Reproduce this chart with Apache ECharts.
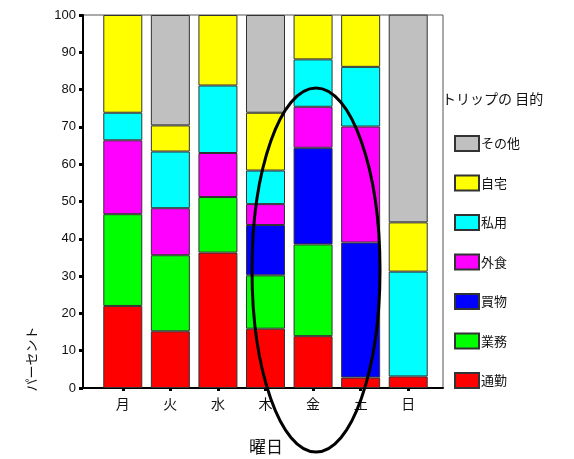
<!DOCTYPE html>
<html><head><meta charset="utf-8">
<script src="https://cdn.jsdelivr.net/npm/echarts@6/dist/echarts.min.js"></script>
<style>html,body{margin:0;padding:0;background:#fff}#c{width:574px;height:459px}</style>
</head><body><div id="c"></div>
<script>
const days = ['月','火','水','木','金','土','日'];
const yTicks = [0,10,20,30,40,50,60,70,80,90,100];
const purposes = ['通勤','業務','買物','外食','私用','自宅','その他'];
const colors = ['#FF0000','#00FF00','#0000FF','#FF00FF','#00FFFF','#FFFF00','#C0C0C0'];
const commute = [22.0, 15.2, 36.3, 15.9, 13.9, 2.8, 3.1];
const business = [24.6, 20.4, 14.9, 14.3, 24.6, 0, 0];
const shopping = [0, 0, 0, 13.5, 25.9, 36.2, 0];
const eatingOut = [19.8, 12.6, 11.8, 5.6, 11.0, 31.1, 0];
const privateUse = [7.4, 15.2, 18.1, 9.0, 12.7, 16.0, 28.1];
const home = [26.2, 7.0, 18.9, 15.5, 11.9, 13.9, 13.2];
const other = [0, 29.6, 0, 26.2, 0, 0, 55.7];
const seriesValues = [commute, business, shopping, eatingOut, privateUse, home, other];

const latin = 'Liberation Sans, Arial, Noto Sans CJK JP';
const cjk = 'Noto Sans CJK JP, sans-serif';

const chart = echarts.init(document.getElementById('c'));
chart.setOption({
  animation: false,
  title: {text: 'トリップの 目的', left: 442, top: 92, padding: 0,
    textStyle: {fontSize: 14, fontWeight: 'normal', color: '#111', fontFamily: cjk}},
  legend: {
    orient: 'vertical', left: 454, top: 135, padding: 0,
    itemWidth: 24, itemHeight: 15, itemGap: 22.5, icon: 'rect',
    data: purposes.slice().reverse(),
    textStyle: {fontSize: 13, color: '#111', fontFamily: cjk, padding: [0,0,0,-3]}
  },
  grid: [
    {left: 99, width: 333, top: 15, bottom: 71, containLabel: false},
    {left: 83, width: 360, top: 15, bottom: 71, show: true, borderColor: '#555', borderWidth: 1, backgroundColor: 'transparent'}
  ],
  xAxis: [
    {type: 'category', gridIndex: 0, data: days,
     axisLine: {show: false},
     axisTick: {show: true, alignWithLabel: true, length: 3, lineStyle: {color: '#000', width: 3}},
     axisLabel: {fontSize: 14, color: '#111', margin: 9, fontFamily: cjk}},
    {type: 'value', gridIndex: 1, min: 0, max: 1,
     axisLine: {show: true, onZero: false, lineStyle: {color: '#000', width: 2}},
     axisTick: {show: false}, axisLabel: {show: false}, splitLine: {show: false}}
  ],
  yAxis: [
    {type: 'value', gridIndex: 0, min: 0, max: 100, show: false},
    {type: 'value', gridIndex: 1, min: yTicks[0], max: yTicks[yTicks.length-1], interval: 10,
     axisLine: {show: true, lineStyle: {color: '#000', width: 2}},
     axisTick: {show: true, length: 4, lineStyle: {color: '#000', width: 3}},
     axisLabel: {fontSize: 13, color: '#111', margin: 7, fontFamily: latin},
     splitLine: {show: false}}
  ],
  series: purposes.map((name, i) => ({
    name, type: 'bar', stack: 'all', xAxisIndex: 0, yAxisIndex: 0,
    barWidth: 39,
    itemStyle: {color: colors[i], borderColor: '#333', borderWidth: 1},
    data: seriesValues[i].map(v => v === 0 ? null : v)
  })),
  graphic: [
    {type: 'ellipse', shape: {cx: 316, cy: 270, rx: 64, ry: 182}, z: 100,
     style: {fill: null, stroke: '#000', lineWidth: 3}},
    {type: 'text', x: 31, y: 359, rotation: Math.PI/2,
     style: {text: 'パーセント', fill: '#111', font: '13px Noto Sans CJK JP', textAlign: 'center', textVerticalAlign: 'middle'}},
    {type: 'text', x: 266, y: 447,
     style: {text: '曜日', fill: '#111', font: '17px Noto Sans CJK JP', textAlign: 'center', textVerticalAlign: 'middle'}}
  ]
});
</script></body></html>
